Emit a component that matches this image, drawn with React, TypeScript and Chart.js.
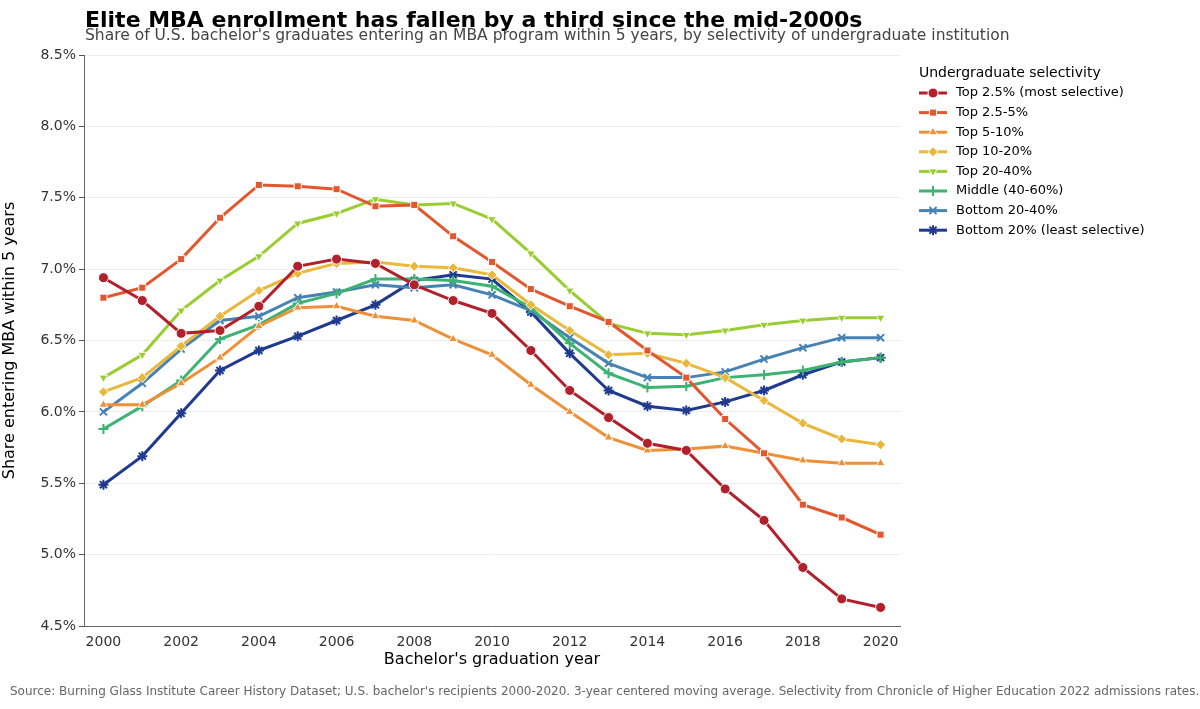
import React, { useEffect, useRef } from "react";
import { Chart, registerables, PointElement } from "chart.js";
Chart.register(...registerables);

const years = [2000,2001,2002,2003,2004,2005,2006,2007,2008,2009,2010,2011,2012,2013,2014,2015,2016,2017,2018,2019,2020];
const seriesNames = ["Top 2.5% (most selective)","Top 2.5-5%","Top 5-10%","Top 10-20%","Top 20-40%","Middle (40-60%)","Bottom 20-40%","Bottom 20% (least selective)"];
const top2_5 = [6.94,6.78,6.55,6.57,6.74,7.02,7.07,7.04,6.89,6.78,6.69,6.43,6.15,5.96,5.78,5.73,5.46,5.24,4.91,4.69,4.63];
const top2_5to5 = [6.80,6.87,7.07,7.36,7.59,7.58,7.56,7.44,7.45,7.23,7.05,6.86,6.74,6.63,6.43,6.24,5.95,5.71,5.35,5.26,5.14];
const top5to10 = [6.05,6.05,6.20,6.38,6.60,6.73,6.74,6.67,6.64,6.51,6.40,6.19,6.00,5.82,5.73,5.74,5.76,5.71,5.66,5.64,5.64];
const top10to20 = [6.14,6.24,6.46,6.67,6.85,6.97,7.04,7.05,7.02,7.01,6.96,6.75,6.57,6.40,6.41,6.34,6.24,6.08,5.92,5.81,5.77];
const top20to40 = [6.24,6.40,6.71,6.92,7.09,7.32,7.39,7.49,7.45,7.46,7.35,7.11,6.85,6.62,6.55,6.54,6.57,6.61,6.64,6.66,6.66];
const middle = [5.88,6.04,6.22,6.51,6.61,6.76,6.83,6.93,6.93,6.92,6.88,6.73,6.48,6.27,6.17,6.18,6.24,6.26,6.29,6.35,6.38];
const bottom20to40 = [6.00,6.20,6.44,6.64,6.67,6.80,6.84,6.89,6.87,6.89,6.82,6.71,6.52,6.34,6.24,6.24,6.28,6.37,6.45,6.52,6.52];
const bottom20 = [5.49,5.69,5.99,6.29,6.43,6.53,6.64,6.75,6.92,6.96,6.93,6.70,6.41,6.15,6.04,6.01,6.07,6.15,6.26,6.35,6.38];
const allSeries = [top2_5, top2_5to5, top5to10, top10to20, top20to40, middle, bottom20to40, bottom20];
const colors = ["#b2212b","#e4572e","#ef8f36","#e9b83a","#9acd32","#3cb371","#4682b4","#1f3a8f"];
const markers = ["circle","rect","triangle","rectRot","triangle","cross","crossRot","star"];
const rotations = [0,0,0,0,180,0,0,0];
const yTicks = [4.5,5.0,5.5,6.0,6.5,7.0,7.5,8.0,8.5];
const xTicks = [2000,2002,2004,2006,2008,2010,2012,2014,2016,2018,2020];
const FONT = "'DejaVu Sans', sans-serif";

const isStroke = (m: string) => m === "cross" || m === "crossRot" || m === "star";

export default function App() {
  const ref = useRef<HTMLCanvasElement>(null);
  useEffect(() => {
    const legendPlugin = {
      id: "customLegend",
      afterDraw(chart: any) {
        const ctx = chart.ctx;
        ctx.save();
        ctx.fillStyle = "#000";
        ctx.font = `14px ${FONT}`;
        ctx.textBaseline = "middle";
        ctx.fillText("Undergraduate selectivity", 919, 73);
        seriesNames.forEach((n, i) => {
          const y = 93 + i * 19.6;
          ctx.strokeStyle = colors[i];
          ctx.lineWidth = 3;
          ctx.beginPath(); ctx.moveTo(919, y); ctx.lineTo(947, y); ctx.stroke();
          const el: any = new (PointElement as any)({});
          el.x = 933; el.y = y;
          el.options = {
            pointStyle: markers[i], radius: 5, rotation: rotations[i],
            borderWidth: isStroke(markers[i]) ? 2 : 1,
            backgroundColor: colors[i],
            borderColor: isStroke(markers[i]) ? colors[i] : "#fff",
          };
          el.draw(ctx, { left: 0, top: 0, right: 1200, bottom: 709 });
          ctx.fillStyle = "#000";
          ctx.font = `13px ${FONT}`;
          ctx.textBaseline = "middle";
          ctx.fillText(n, 956, y);
        });
        ctx.restore();
      },
    };
    const chart = new Chart(ref.current!, {
      type: "line",
      data: {
        datasets: allSeries.map((s, i) => {
          const strokey = isStroke(markers[i]);
          return {
            label: seriesNames[i],
            data: years.map((y, j) => ({ x: y, y: s[j] })),
            borderColor: colors[i],
            backgroundColor: colors[i],
            borderWidth: 3,
            pointStyle: markers[i] as any,
            pointRotation: rotations[i],
            pointRadius: 5,
            pointBorderColor: strokey ? colors[i] : "#fff",
            pointBorderWidth: strokey ? 2 : 1,
            tension: 0,
          };
        }),
      },
      options: {
        animation: false,
        responsive: false,
        layout: { padding: { top: 55, right: 300, bottom: 40, left: 0 } },
        plugins: { legend: { display: false }, tooltip: { enabled: false } },
        scales: {
          x: {
            type: "linear", min: 1999.5, max: 2020.5,
            afterBuildTicks: (a: any) => { a.ticks = xTicks.map((v) => ({ value: v })); },
            afterFit: (a: any) => { a.height = 43; },
            grid: { display: false, drawTicks: true, tickLength: 5, tickColor: "#555" } as any,
            border: { color: "#666" },
            ticks: { color: "#333", font: { family: FONT, size: 14 }, padding: 3, callback: (v: any) => String(v) },
            title: { display: true, text: "Bachelor's graduation year", color: "#000", font: { family: FONT, size: 16 }, padding: { top: 2, bottom: 0 } },
          },
          y: {
            min: 4.5, max: 8.5,
            afterBuildTicks: (a: any) => { a.ticks = yTicks.map((v) => ({ value: v })); },
            afterFit: (a: any) => { a.width = 84; },
            grid: { color: "#ececec", tickLength: 5, tickColor: "#555" } as any,
            border: { color: "#666" },
            ticks: { color: "#333", font: { family: FONT, size: 14 }, padding: 3, callback: (v: any) => Number(v).toFixed(1) + "%" },
            title: { display: true, text: "Share entering MBA within 5 years", color: "#000", font: { family: FONT, size: 16 }, padding: { top: 0, bottom: 4 } },
          },
        },
      },
      plugins: [legendPlugin],
    });
    return () => chart.destroy();
  }, []);
  return (
    <div style={{ position: "fixed", left: 0, top: 0, width: 1200, height: 709, background: "#fff", fontFamily: FONT }}>
      <canvas ref={ref} width={1200} height={709} style={{ position: "absolute", left: 0, top: 0 }} />
      <div style={{ position: "absolute", left: 85, top: 7, fontSize: 22, fontWeight: "bold", color: "#000" }}>
        Elite MBA enrollment has fallen by a third since the mid-2000s
      </div>
      <div style={{ position: "absolute", left: 85, top: 26, fontSize: 15.5, color: "#444" }}>
        Share of U.S. bachelor's graduates entering an MBA program within 5 years, by selectivity of undergraduate institution
      </div>
      <div style={{ position: "absolute", left: 10, top: 684, fontSize: 12, color: "#666" }}>
        Source: Burning Glass Institute Career History Dataset; U.S. bachelor's recipients 2000-2020. 3-year centered moving average. Selectivity from Chronicle of Higher Education 2022 admissions rates.
      </div>
    </div>
  );
}
